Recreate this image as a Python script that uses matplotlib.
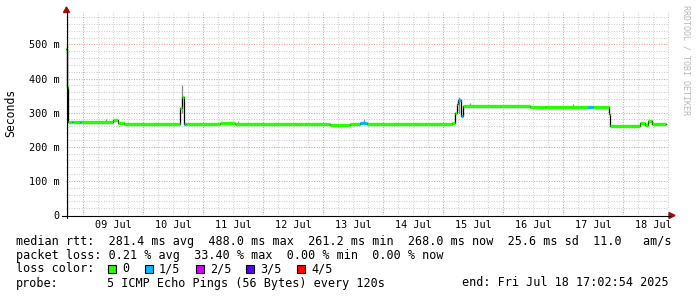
import matplotlib
matplotlib.use('Agg')
import matplotlib.pyplot as plt
import numpy as np
from matplotlib.patches import Rectangle, Polygon
from matplotlib.lines import Line2D

W, H = 697, 297
MONO = 'DejaVu Sans Mono'

# ---------------- data ----------------
# hours relative to 09 Jul 00:00
day_labels = ['09 Jul', '10 Jul', '11 Jul', '12 Jul', '13 Jul',
              '14 Jul', '15 Jul', '16 Jul', '17 Jul', '18 Jul']
day_label_h = [12, 36, 60, 84, 108, 132, 156, 180, 204, 228]

seg_start_h = [-6.95, -6.3, -6.0, -4.6, -4.0, -1.4, -0.8, 12.0, 14.0, 16.4,
               38.8, 39.4, 39.8, 40.4, 41.0, 54.8, 60.8, 86.8, 98.8, 106.8,
               110.8, 113.6, 147.6, 148.8, 149.6, 150.2, 151.4, 152.0, 178.8, 184.8,
               202.0, 204.0, 210.4, 211.0, 222.8, 224.8, 226.0, 227.6]
seg_median_ms = [488, 375, 274, 274, 274, 272, 273, 277, 269, 266,
                 315, 330, 345, 268, 267, 270, 267, 266, 264, 267,
                 270, 268, 271, 300, 325, 337, 290, 320, 318, 316,
                 316, 316, 296, 262, 269, 263, 275, 268]
seg_loss = [0, 0, 0, 1, 0, 1, 0, 0, 0, 0,
            0, 0, 0, 1, 0, 0, 0, 0, 0, 0,
            1, 0, 0, 0, 0, 1, 1, 0, 0, 0,
            1, 0, 0, 0, 0, 0, 0, 0]
end_h = 233.05

smoke_h = [-6.6, 39.8, 150.4, 9.0, 62.0, 112.5, 155.0, 196.0, 227.8]
smoke_lo_ms = [370, 300, 300, 274, 267, 268, 320, 318, 268]
smoke_hi_ms = [500, 380, 345, 280, 276, 280, 328, 326, 278]

y_tick_ms = [0, 100, 200, 300, 400, 500]
y_tick_labels = ['0', '100 m', '200 m', '300 m', '400 m', '500 m']

loss_labels = ['0', '1/5', '2/5', '3/5', '4/5']
loss_colors = ['#26ff00', '#00b8ff', '#d400ff', '#5500ff', '#ff0000']

line_rtt = "median rtt:  281.4 ms avg  488.0 ms max  261.2 ms min  268.0 ms now  25.6 ms sd  11.0   am/s"
line_loss = "packet loss: 0.21 % avg  33.40 % max  0.00 % min  0.00 % now"
probe_text = "5 ICMP Echo Pings (56 Bytes) every 120s"
end_text = "end: Fri Jul 18 17:02:54 2025"

# ---------------- figure ----------------
def fx(x):
    return x / W

def fy(y):
    return 1 - y / H

fig = plt.figure(figsize=(W / 100, H / 100), dpi=100)
fig.patch.set_facecolor('white')
ax = fig.add_axes([fx(66), fy(215), (669 - 66) / W, (215 - 12) / H])
ax.set_facecolor('white')
ax.set_xlim(-6.8, 234.4)
ax.set_ylim(0, 0.595)
for s in ax.spines.values():
    s.set_visible(False)

# grid
minor_c = '#cfcfcf'
major_c = '#e89c9c'
for v in np.arange(0.02, 0.595, 0.02):
    if abs(v * 10 - round(v * 10)) < 1e-6:
        continue
    ax.axhline(v, color=minor_c, lw=0.75, ls=(0, (1, 1.4)), zorder=1)
for h in np.arange(-6, 235, 6):
    if h % 24 == 0:
        continue
    ax.axvline(h, color=minor_c, lw=0.75, ls=(0, (1, 1.4)), zorder=1)
for v in np.arange(0.1, 0.595, 0.1):
    ax.axhline(v, color=major_c, lw=0.75, ls=(0, (1, 1.4)), zorder=1.5)
for h in np.arange(0, 235, 24):
    ax.axvline(h, color=major_c, lw=0.75, ls=(0, (1, 1.4)), zorder=1.5)

# smoke
ax.vlines(smoke_h, np.array(smoke_lo_ms) / 1000, np.array(smoke_hi_ms) / 1000,
          color='#8a8a8a', lw=0.9, zorder=2)

# median: black step + loss-coloured segments
xs = list(seg_start_h) + [end_h]
ys = [m / 1000 for m in seg_median_ms] + [seg_median_ms[-1] / 1000]
ax.step(xs, ys, where='post', color='black', lw=0.9, zorder=3)
for i in range(len(seg_start_h)):
    x0 = seg_start_h[i]
    x1 = seg_start_h[i + 1] if i + 1 < len(seg_start_h) else end_h
    ax.hlines(seg_median_ms[i] / 1000, x0, x1, color=loss_colors[seg_loss[i]],
              lw=2.4, capstyle='butt', zorder=4)

# ticks
ax.set_yticks([m / 1000 for m in y_tick_ms])
ax.set_yticklabels(y_tick_labels, fontfamily=MONO, fontsize=7.3)
ax.set_xticks(day_label_h)
ax.set_xticklabels(day_labels, fontfamily=MONO, fontsize=7.3)
ax.tick_params(axis='both', length=0, colors='black')
ax.tick_params(axis='y', pad=4.5)
ax.tick_params(axis='x', pad=3.5)

# axis lines + arrows
fig.add_artist(Line2D([fx(66.5), fx(66.5)], [fy(218), fy(11)], color='black', lw=0.8,
                      transform=fig.transFigure))
fig.add_artist(Line2D([fx(62), fx(670)], [fy(215.5), fy(215.5)], color='black', lw=0.8,
                      transform=fig.transFigure))
arrow_c = '#9a1010'
fig.add_artist(Polygon([(fx(63.5), fy(12.5)), (fx(69.5), fy(12.5)), (fx(66.5), fy(7))],
                       closed=True, color=arrow_c, transform=fig.transFigure))
fig.add_artist(Polygon([(fx(669), fy(212.5)), (fx(669), fy(218.5)), (fx(675), fy(215.5))],
                       closed=True, color=arrow_c, transform=fig.transFigure))

# labels
fig.text(fx(11), fy(113), 'Seconds', rotation=90, ha='center', va='center',
         fontfamily=MONO, fontsize=8.3)
fig.text(fx(686), fy(60), 'RRDTOOL / TOBI OETIKER', rotation=270, ha='center', va='center',
         fontfamily=MONO, fontsize=6.0, color='#b8b8b8')

# legend text
LF = 8.5
fig.text(fx(16), fy(241), line_rtt, ha='left', va='center', fontfamily=MONO, fontsize=LF)
fig.text(fx(16), fy(255), line_loss, ha='left', va='center', fontfamily=MONO, fontsize=LF)
fig.text(fx(16), fy(269), 'loss color:', ha='left', va='center', fontfamily=MONO, fontsize=LF)
box_x = [108, 145, 196, 246, 297]
lab_x = [122, 159, 210, 260, 311]
for bx, lx, lab, col in zip(box_x, lab_x, loss_labels, loss_colors):
    fig.add_artist(Rectangle((fx(bx), fy(273)), 8 / W, 8 / H, facecolor=col,
                             edgecolor='black', lw=0.8, transform=fig.transFigure))
    fig.text(fx(lx), fy(269), lab, ha='left', va='center', fontfamily=MONO, fontsize=LF)
fig.text(fx(16), fy(283), 'probe:', ha='left', va='center', fontfamily=MONO, fontsize=LF)
fig.text(fx(107), fy(283), probe_text, ha='left', va='center', fontfamily=MONO, fontsize=LF)
fig.text(fx(669), fy(283), end_text, ha='right', va='center', fontfamily=MONO, fontsize=LF)

fig.savefig('out.png', dpi=100, facecolor='white')
